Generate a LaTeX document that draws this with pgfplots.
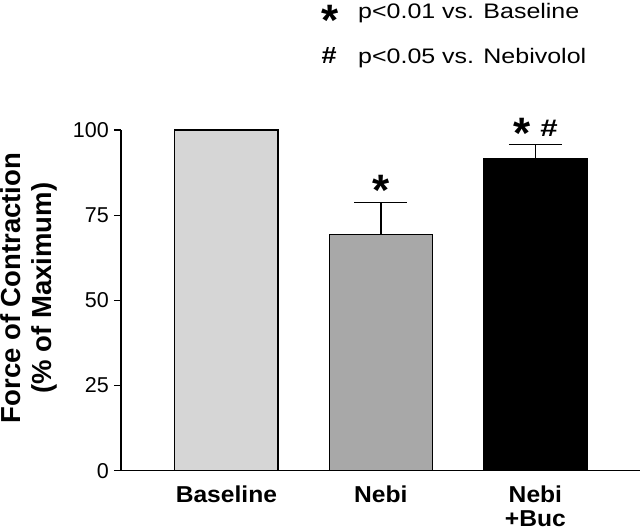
\documentclass[border=0pt]{standalone}
\usepackage{fontspec}
\setmainfont{Liberation Sans}
\newfontfamily\legfont{Liberation Sans}[FakeStretch=1.19]
\newfontfamily\xlfont{Liberation Sans}[FakeStretch=1.07]
\usepackage{pgfplots}
\pgfplotsset{compat=1.18}
\definecolor{lightbar}{RGB}{214,214,214}
\definecolor{midbar}{RGB}{168,168,168}
\begin{document}
\begin{tikzpicture}
\begin{axis}[name=ax, at={(0,0)}, anchor=south west,
  scale only axis, width=519pt, height=340.7pt,
  xmin=-0.682, xmax=2.677, ymin=0, ymax=100,
  axis x line*=bottom, axis y line*=left,
  axis line style={line width=1.4pt, black},
  ytick={0,25,50,75,100}, tick align=outside,
  ytick style={line width=1.2pt, black}, major tick length=7pt,
  /pgf/number format/assume math mode=true,
  yticklabel style={font=\fontsize{21.5}{24}\selectfont, inner sep=0pt, xshift=-5pt},
  xtick={0,1,2}, xticklabels={Baseline,Nebi,{Nebi\\+Buc}},
  xtick style={draw=none},
  xticklabel style={font=\xlfont\bfseries\fontsize{23}{24.4}\selectfont, align=center, anchor=north, inner sep=0pt, yshift=-8pt},
  clip=false]
\addplot[ybar, bar width=103.3pt, bar shift=0pt, fill=lightbar, draw=black, line width=1.4pt]
  coordinates {(0,100)};
\addplot[ybar, bar width=103.3pt, bar shift=0pt, fill=midbar, draw=black, line width=1.4pt,
  error bars/.cd, y dir=plus, y explicit,
  error bar style={line width=1.4pt, black},
  error mark options={rotate=90, mark size=26.5pt, line width=1.4pt, black}]
  coordinates {(1,69.4) +- (0,9.3)};
\addplot[ybar, bar width=103.3pt, bar shift=0pt, fill=black, draw=black, line width=1.4pt,
  error bars/.cd, y dir=plus, y explicit,
  error bar style={line width=1.4pt, black},
  error mark options={rotate=90, mark size=26.5pt, line width=1.4pt, black}]
  coordinates {(2,91.7) +- (0,4.1)};
\end{axis}
% y label
\node[rotate=90, align=center, inner sep=0pt, font=\bfseries\fontsize{27.5}{31}\selectfont]
  at (-92pt,182.7pt) {Force of Contraction\\(\% of Maximum)};
% legend
\node[anchor=base, inner sep=0pt, font=\bfseries\fontsize{44}{44}\selectfont] at (209.5pt,435.5pt) {*};
\node[anchor=base, inner sep=0pt, font=\bfseries\fontsize{23.5}{23.5}\selectfont] at (208.2pt,407.4pt) {\scalebox{1.15}[1]{\#}};
\node[anchor=base west, inner sep=0pt, font=\legfont\fontsize{21}{21}\selectfont] at (237pt,452.4pt) {p<0.01 vs. Baseline};
\node[anchor=base west, inner sep=0pt, font=\legfont\fontsize{21}{21}\selectfont] at (237pt,407.4pt) {p<0.05 vs. Nebivolol};
% significance markers
\node[anchor=base, inner sep=0pt, font=\bfseries\fontsize{44}{44}\selectfont] at (259.8pt,265pt) {*};
\node[anchor=base, inner sep=0pt, font=\bfseries\fontsize{44}{44}\selectfont] at (401.5pt,322pt) {*};
\node[anchor=base, inner sep=0pt, font=\bfseries\fontsize{24}{24}\selectfont] at (428pt,334pt) {\scalebox{1.3}[1]{\#}};
\pgfresetboundingbox
\path[use as bounding box] (-121pt,-60.3pt) rectangle (519pt,470.7pt);
\end{tikzpicture}
\end{document}
